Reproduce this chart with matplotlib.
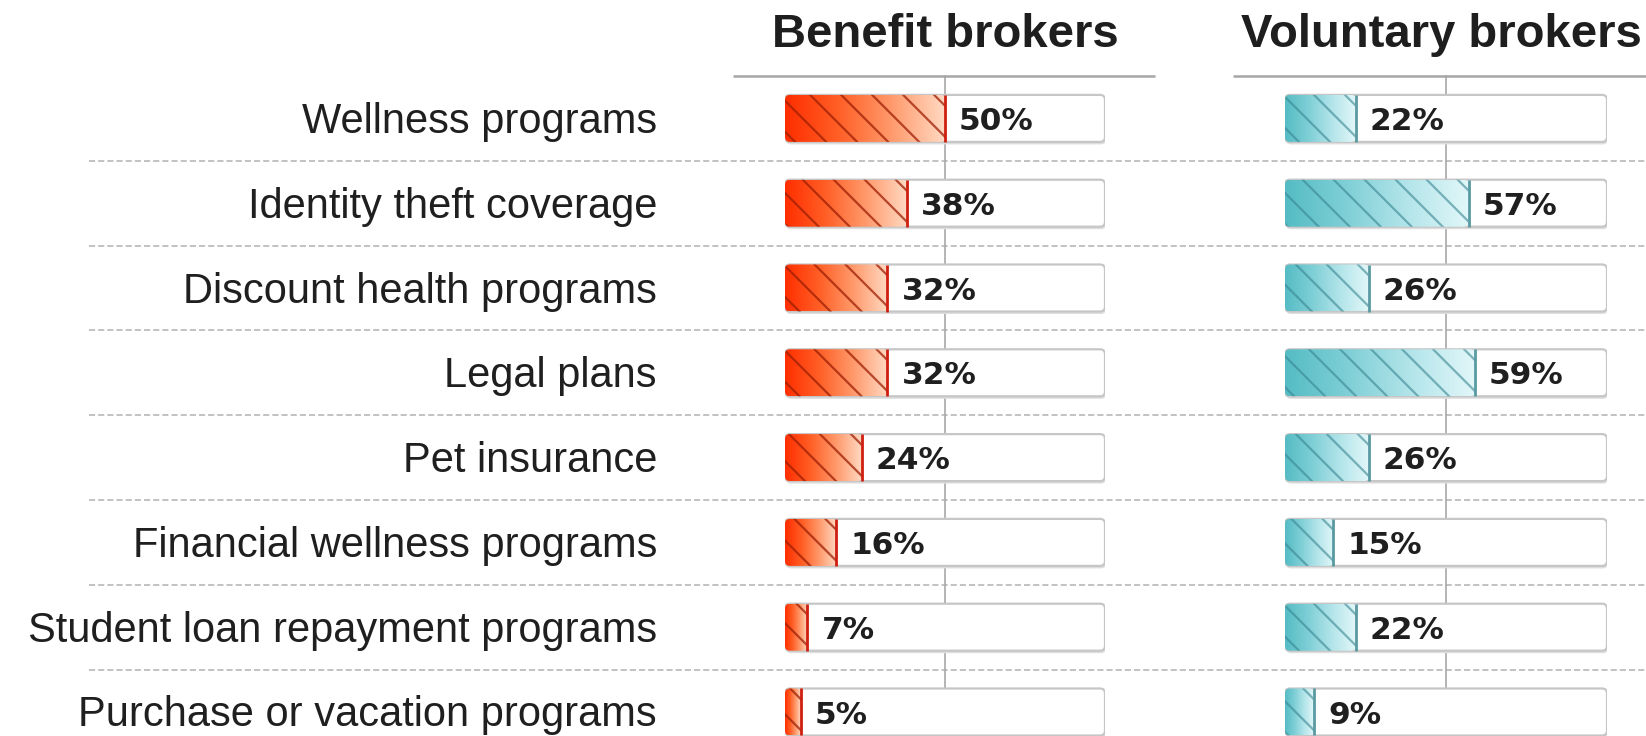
import numpy as np
import matplotlib
matplotlib.use("Agg")
import matplotlib.pyplot as plt
from matplotlib.patches import FancyBboxPatch
from matplotlib.colors import LinearSegmentedColormap
import matplotlib.transforms as mtransforms

# ---- data -------------------------------------------------------------
categories = [
    "Wellness programs",
    "Identity theft coverage",
    "Discount health programs",
    "Legal plans",
    "Pet insurance",
    "Financial wellness programs",
    "Student loan repayment programs",
    "Purchase or vacation programs",
]
benefit_brokers = [50, 38, 32, 32, 24, 16, 7, 5]
voluntary_brokers = [22, 57, 26, 59, 26, 15, 22, 9]
panel_titles = ["Benefit brokers", "Voluntary brokers"]

# ---- layout (pixels) --------------------------------------------------
W, H = 1646, 736
TOP_PX = 76          # top rule
ROW_PX = 84.8        # row pitch
BAR_PX = 47          # bar height
n = len(categories)
y_bottom = -0.5 + (H - TOP_PX) / ROW_PX

fig = plt.figure(figsize=(W / 100, H / 100), dpi=100)
fig.patch.set_facecolor("white")

orange_cmap = LinearSegmentedColormap.from_list(
    "orange", ["#ff2e00", "#ff5f26", "#ff9a6c", "#ffd9c2"])
teal_cmap = LinearSegmentedColormap.from_list(
    "teal", ["#55bcc4", "#7fcfd6", "#b3e5ea", "#e2f7f9"])


def make_panel(x0_px, x1_px):
    ax = fig.add_axes([x0_px / W, 0, (x1_px - x0_px) / W, (H - TOP_PX) / H])
    ax.axis("off")
    ax.patch.set_visible(False)
    return ax, (x1_px - x0_px) / 100.0


def draw_panel(ax, px_per_unit, values, cmap, hatch_color, end_color,
               title, title_x, rule_span):
    bar_h = BAR_PX / ROW_PX
    r_x = 5 / px_per_unit
    aspect = (5 / ROW_PX) / r_x
    style = f"round,pad=0,rounding_size={r_x}"

    # 50% reference line and top rule
    ax.plot([50, 50], [-0.5, y_bottom], color="#a8a8a8", lw=1.2,
            zorder=1, clip_on=False)
    ax.plot(rule_span, [-0.5, -0.5], color="#a6a6a6", lw=1.8,
            zorder=1, clip_on=False, solid_capstyle="butt")

    grad = np.linspace(0, 1, 256).reshape(1, -1)
    for i, v in enumerate(values):
        y0 = i - bar_h / 2
        shadow = FancyBboxPatch((0.3, y0 + 2.5 / ROW_PX), 100, bar_h,
                                boxstyle=style, mutation_aspect=aspect,
                                fc="#dedede", ec="none", zorder=2)
        track = FancyBboxPatch((0, y0), 100, bar_h, boxstyle=style,
                               mutation_aspect=aspect, fc="white",
                               ec="#c6c6c6", lw=1.6, zorder=3)
        ax.add_patch(shadow)
        ax.add_patch(track)

        clip = FancyBboxPatch((0, y0), v, bar_h, boxstyle=style,
                              mutation_aspect=aspect, fc="none", ec="none",
                              zorder=4)
        ax.add_patch(clip)
        im = ax.imshow(grad, cmap=cmap, extent=[0, v, y0 + bar_h, y0],
                       aspect="auto", interpolation="bilinear", zorder=4)
        im.set_clip_path(clip)

        # diagonal stripes inside the bar
        run = BAR_PX / px_per_unit
        step = 31 / px_per_unit
        xs = np.arange(v - step * 0.35, -run - step, -step)
        for xs0 in xs:
            ln, = ax.plot([xs0, xs0 + run], [y0, y0 + bar_h],
                          color=hatch_color, lw=1.6, zorder=5)
            ln.set_clip_path(clip)

        # end marker
        ax.plot([v, v], [y0, y0 + bar_h], color=end_color, lw=2.0,
                zorder=6, solid_capstyle="butt")

        ax.text(v + 14 / px_per_unit, i + 11.5 / ROW_PX, f"{v}%",
                family="DejaVu Sans", weight="bold", fontsize=22.5,
                color="#1f1f1f", ha="left", va="baseline", zorder=7)

    ax.text(title_x, -0.5 - (TOP_PX - 47) / ROW_PX, title,
            family="Liberation Sans", weight="bold", fontsize=34,
            color="#1e1e1e", ha="center", va="baseline", clip_on=False)

    ax.set_xlim(0, 100)
    ax.set_ylim(y_bottom, -0.5)


ax1, ppu1 = make_panel(785, 1105)
ax2, ppu2 = make_panel(1285, 1607)

draw_panel(ax1, ppu1, benefit_brokers, orange_cmap, (0.62, 0.12, 0.02, 0.75),
           "#cf1f10", panel_titles[0], 50, [-16.3, 115.6])
draw_panel(ax2, ppu2, voluntary_brokers, teal_cmap, (0.22, 0.52, 0.57, 0.6),
           "#5a9aa2", panel_titles[1], 48.5, [-16.1, 120])

# row separators and category labels across the whole figure
trans = mtransforms.blended_transform_factory(fig.transFigure, ax1.transData)
for i in range(n - 1):
    ax1.plot([89 / W, 1.0], [i + 0.5, i + 0.5], transform=trans,
             color="#b2b2b2", lw=1.1, ls=(0, (4, 2)), clip_on=False, zorder=0)
for i, cat in enumerate(categories):
    ax1.text(657 / W, i + 14.5 / ROW_PX, cat, transform=trans,
             family="Liberation Sans", fontsize=30, color="#1f1f1f",
             ha="right", va="baseline")

fig.savefig("out.png", dpi=100)
